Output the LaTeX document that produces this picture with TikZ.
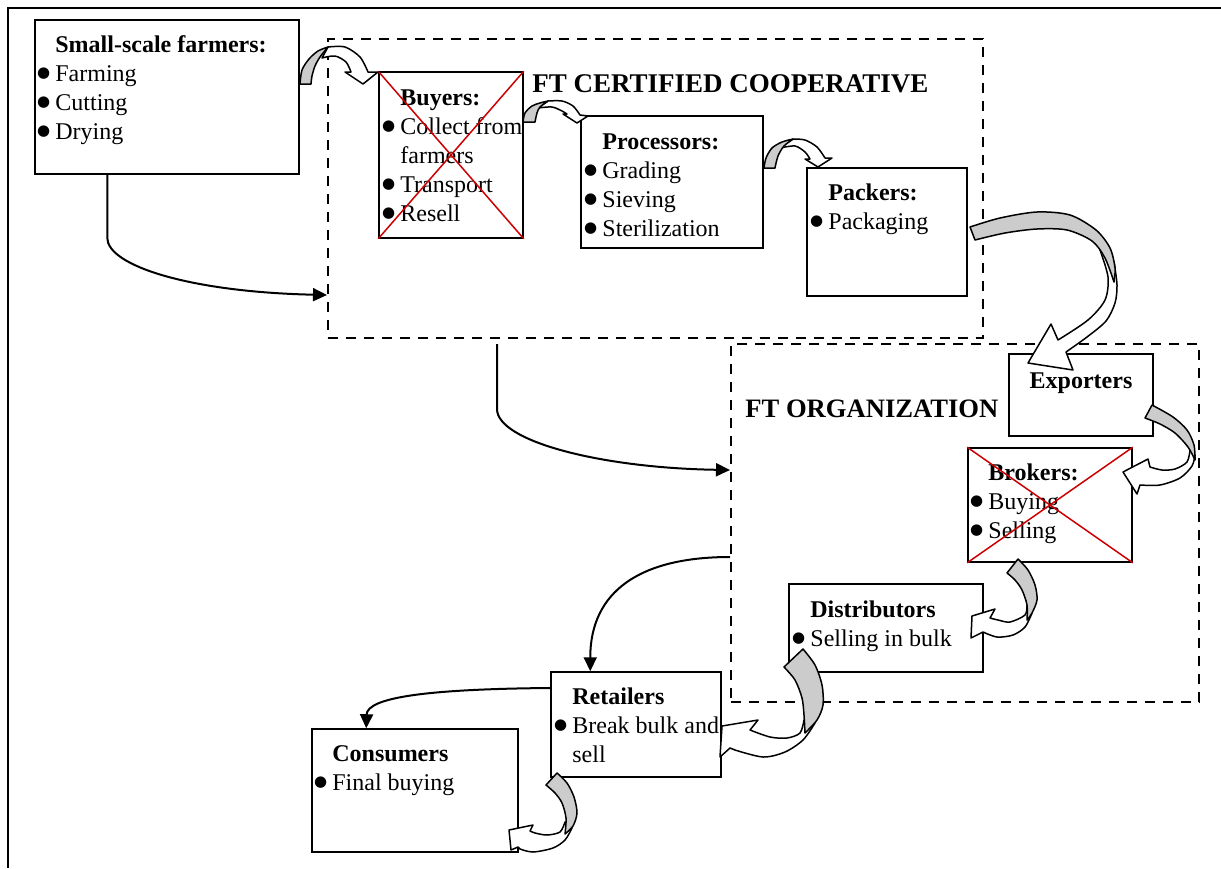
\documentclass[tikz,border=0pt]{standalone}
\usepackage{fontspec}
\setmainfont{Liberation Serif}
\newfontfamily\dotfont{DejaVu Sans}
\usetikzlibrary{arrows.meta,calc}

% lines of a box: bold title, bullet items, continuation lines
\newcommand\Dot{\raisebox{1.8pt}{\dotfont\fontsize{7.5}{8}\selectfont ●}}
\newcommand\Ttl[1]{\hbox{\bfseries #1}}
\newcommand\Bul[1]{\hbox{\llap{\Dot\hspace{2.6pt}}#1}}
\newcommand\Cnt[1]{\hbox{#1}}
\newcommand\Lines[1]{\vtop{\fontsize{12}{14.5}\selectfont #1}}

\definecolor{crossred}{RGB}{204,0,0}
\definecolor{bandgray}{RGB}{204,204,204}

\begin{document}
\begin{tikzpicture}[x=0.5pt,y=-0.5pt,
  box/.style={draw,line width=0.75pt,fill=white,inner sep=0pt},
  zone/.style={draw,line width=1pt,dash pattern=on 5pt off 4pt,inner sep=0pt},
  txt/.style={anchor=base west,inner sep=0pt},
  lbl/.style={anchor=base west,inner sep=0pt,font=\fontsize{13.3}{16}\selectfont\bfseries},
  conn/.style={draw,line width=1pt,-{Triangle[length=7pt,width=6.5pt]}},
  cross/.style={draw=crossred,line width=0.75pt},
  front/.style={draw,line width=0.75pt,fill=white,line join=round},
  back/.style={draw,line width=0.75pt,fill=bandgray,line join=round}]

\useasboundingbox (0,0) rectangle (1221,868);

% page frame
\draw[line width=1.25pt] (8,868) -- (8,8) -- (1221,8);

% dashed zones
\node[zone,minimum width=327.5pt,minimum height=149.5pt] (coop) at (655.5,188.5) {};
\node[zone,minimum width=234pt,minimum height=179pt] (ftorg) at (965,523) {};
\node[lbl,font=\fontsize{13.5}{16}\selectfont\bfseries] (coop-label) at (532,92) {FT CERTIFIED COOPERATIVE};
\node[lbl] (ftorg-label) at (745,417) {FT ORGANIZATION};

% actor boxes
\node[box,minimum width=132pt,minimum height=77pt] (farmers) at (167,97) {};
\node[box,minimum width=72pt,minimum height=83pt] (buyers) at (451,155) {};
\node[box,minimum width=91pt,minimum height=66pt] (processors) at (672,182) {};
\node[box,minimum width=80pt,minimum height=64pt] (packers) at (887,232) {};
\node[box,minimum width=72pt,minimum height=41pt] (exporters) at (1081,395) {};
\node[box,minimum width=82pt,minimum height=57pt] (brokers) at (1050,505) {};
\node[box,minimum width=97pt,minimum height=44pt] (distributors) at (886,628) {};
\node[box,minimum width=85pt,minimum height=52.5pt] (retailers) at (636,724.5) {};
\node[box,minimum width=103pt,minimum height=61.5pt] (consumers) at (415,790.5) {};

% box texts
\node[txt] (farmers-txt) at (55,52) {\Lines{\Ttl{Small-scale farmers:}\Bul{Farming}\Bul{Cutting}\Bul{Drying}}};
\node[txt] (buyers-txt) at (400,105) {\Lines{\Ttl{Buyers:}\Bul{Collect from}\Cnt{farmers}\Bul{Transport}\Bul{Resell}}};
\node[txt] (processors-txt) at (602,149) {\Lines{\Ttl{Processors:}\Bul{Grading}\Bul{Sieving}\Bul{Sterilization}}};
\node[txt] (packers-txt) at (828,200) {\Lines{\Ttl{Packers:}\Bul{Packaging}}};
\node[anchor=base,inner sep=0pt,font=\fontsize{12}{14.5}\selectfont\bfseries] (exporters-txt) at (1081,388) {Exporters};
\node[txt] (brokers-txt) at (988,480) {\Lines{\Ttl{Brokers:}\Bul{Buying}\Bul{Selling}}};
\node[txt] (distributors-txt) at (810,617) {\Lines{\Ttl{Distributors}\Bul{Selling in bulk}}};
\node[txt] (retailers-txt) at (572,704) {\Lines{\Ttl{Retailers}\Bul{Break bulk and}\Cnt{sell}}};
\node[txt] (consumers-txt) at (332,761) {\Lines{\Ttl{Consumers}\Bul{Final buying}}};

% crossed-out intermediaries
\draw[cross] (buyers.north west) -- (buyers.south east);
\draw[cross] (buyers.north east) -- (buyers.south west);
\draw[cross] (brokers.north west) -- (brokers.south east);
\draw[cross] (brokers.north east) -- (brokers.south west);

% direct routes
\draw[conn] ($(farmers.south west)+(73,0)$) -- ++(0,63)
  .. controls +(0,28) and (190,292) .. (coop.west |- 0,295);
\draw[conn] ($(coop.south west)+(170,5)$) -- ++(0,65)
  .. controls +(0,32) and (600,468) .. (ftorg.west |- 0,470);
\draw[conn] (ftorg.west |- 0,557)
  .. controls (640,557) and ($(retailers.north west)+(40,-80)$) .. ($(retailers.north west)+(40,0)$);
\draw[conn] (retailers.west |- 0,688)
  .. controls (430,689) and (367,697) .. ($(consumers.north west)+(55,0)$);

% curved block arrows: farmers -> buyers
\path[front] plot[smooth] coordinates {(322,58) (335,56) (346,62) (351,72)}
  -- (345,72) -- (363,84) -- (378,72) -- (368,72)
  -- plot[smooth] coordinates {(368,72) (360,57) (345,47) (328,47)} -- cycle;
\path[back] plot[smooth] coordinates {(300,84) (302,70) (309,59) (318,51) (328,47)}
  -- plot[smooth] coordinates {(328,47) (320,57) (315,66) (312,76) (311,84)} -- cycle;

% buyers -> processors
\path[front] plot[smooth] coordinates {(538,108) (552,107) (562,111) (567,114)}
  -- (563,114) -- (577,123) -- (588,116) -- (580,115)
  -- plot[smooth] coordinates {(580,115) (573,106) (562,101) (548,101)} -- cycle;
\path[back] plot[smooth] coordinates {(523,122) (525,113) (532,106) (540,103) (548,101)}
  -- plot[smooth] coordinates {(548,101) (540,107) (537,113) (535,122)} -- cycle;

% processors -> packers
\path[front] plot[smooth] coordinates {(780,148) (795,146) (805,152) (810,159)}
  -- (805,159) -- (818,167) -- (832,158) -- (825,158)
  -- plot[smooth] coordinates {(825,158) (817,147) (805,140) (793,139)} -- cycle;
\path[back] plot[smooth] coordinates {(764,168) (766,158) (772,148) (782,142) (793,139)}
  -- plot[smooth] coordinates {(793,139) (784,146) (778,156) (775,168)} -- cycle;

% packers -> exporters
\path[front] plot[smooth] coordinates {(1100,250) (1108,277) (1105,300) (1088,320) (1058,340)}
  -- (1051,324) -- (1028,363) -- (1073,370) -- (1066,352)
  -- plot[smooth] coordinates {(1066,352) (1087,337) (1106,321) (1115,303) (1117,285) (1114,262)} -- cycle;
\path[back] plot[smooth] coordinates {(970,227) (1000,218) (1037,212) (1070,215) (1096,230) (1110,248) (1115,268) (1114,282)}
  -- plot[smooth] coordinates {(1114,282) (1105,258) (1092,241) (1067,230) (1037,229) (1005,233) (975,240)} -- cycle;

% exporters -> brokers
\path[front] plot[smooth] coordinates {(1190,450) (1187,462) (1175,469) (1162,470) (1150,467)}
  -- (1148,459) -- (1123,472) -- (1137,494) -- (1140,485)
  -- plot[smooth] coordinates {(1140,485) (1160,485) (1180,478) (1192,466) (1195,455)} -- cycle;
\path[back] plot[smooth] coordinates {(1152,405) (1173,417) (1187,430) (1194,445) (1195,460)}
  -- plot[smooth] coordinates {(1195,460) (1188,447) (1175,433) (1160,424) (1145,418)} -- cycle;

% brokers -> distributors
\path[front] plot[smooth] coordinates {(1027,605) (1025,615) (1010,622) (998,620) (990,618)}
  -- (995,609) -- (972,616) -- (971,638) -- (983,632)
  -- plot[smooth] coordinates {(983,632) (997,637) (1013,635) (1025,627) (1032,613)} -- cycle;
\path[back] plot[smooth] coordinates {(1018,559) (1028,570) (1035,585) (1037,600) (1032,613) (1027,620)}
  -- plot[smooth] coordinates {(1027,620) (1027,605) (1022,590) (1015,580) (1007,573)} -- cycle;

% distributors -> retailers
\path[front] plot[smooth] coordinates {(804,720) (800,733) (787,738) (770,737) (750,730)}
  -- (758,720) -- (722,726) -- (720,757) -- (730,748) -- (735,750)
  -- plot[smooth] coordinates {(735,750) (763,757) (785,752) (803,740) (815,723)} -- cycle;
\path[back] plot[smooth] coordinates {(803,649) (815,665) (822,685) (823,705) (817,720) (805,733)}
  -- plot[smooth] coordinates {(805,733) (804,715) (802,698) (795,680) (784,667)} -- cycle;

% retailers -> consumers
\path[front] plot[smooth] coordinates {(565,822) (560,832) (547,835) (535,833) (530,831)}
  -- (533,825) -- (509,830) -- (511,850) -- (518,847) -- (520,849)
  -- plot[smooth] coordinates {(520,849) (533,852) (553,848) (565,840) (572,828)} -- cycle;
\path[back] plot[smooth] coordinates {(557,773) (567,783) (574,797) (577,813) (573,826) (565,834)}
  -- plot[smooth] coordinates {(565,834) (566,818) (562,803) (555,793) (546,785)} -- cycle;

\end{tikzpicture}
\end{document}
